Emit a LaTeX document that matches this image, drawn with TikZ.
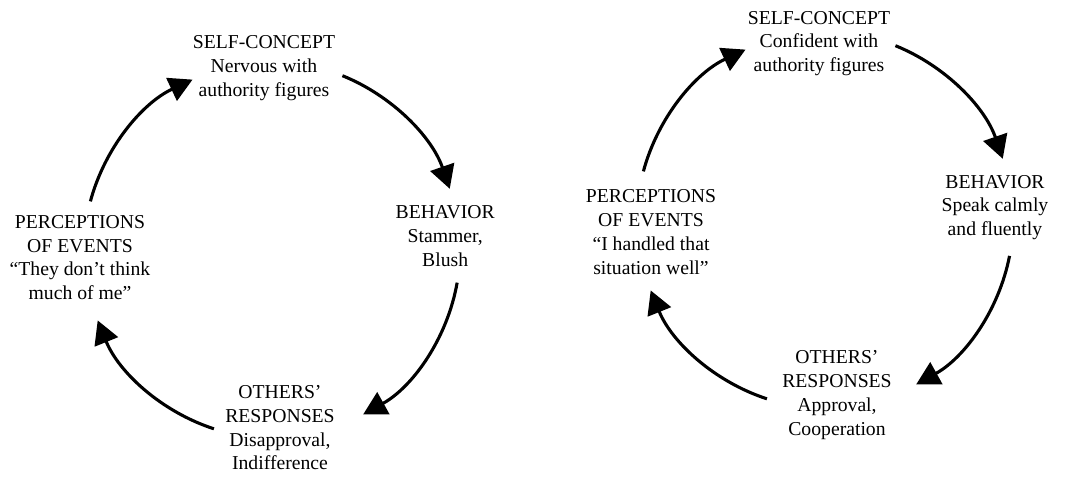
\documentclass[tikz,border=0pt]{standalone}
\usepackage{fontspec}
\setmainfont{Liberation Serif}
\usetikzlibrary{arrows.meta}

\begin{document}
\begin{tikzpicture}[font=\fontsize{14}{17}\selectfont,
          lbl/.style={align=center, inner sep=1pt},
          cyc/.style={line width=2.2pt, -{Triangle[length=0.58cm, width=0.62cm]}}]
        \useasboundingbox (0,0) rectangle (26.75,12);
        % left cycle: arcs on a circle of radius 4.7 round (6.8,5.75)
        \begin{scope}[shift={(6.8,5.75)}]
          \node[lbl] (sc1) at (-0.2,4.55) {SELF-CONCEPT\\Nervous with\\authority figures};
          \node[lbl] (bh1) at (4.33,0.34) {BEHAVIOR\\Stammer,\\Blush};
          \node[lbl] (or1) at (0.2,-4.44) {OTHERS’\\RESPONSES\\Disapproval,\\Indifference};
          \node[lbl] (pe1) at (-4.8,-0.19) {PERCEPTIONS\\OF EVENTS\\“They don’t think\\much of me”};
          \coordinate (a1) at (165:4.7);
          \coordinate (b1) at (68:4.7);
          \coordinate (c1) at (-10:4.7);
          \coordinate (d1) at (-108:4.7);
          \draw[cyc] (a1) arc[start angle=165, end angle=115, radius=4.7];
          \draw[cyc] (b1) arc[start angle=68, end angle=19, radius=4.7];
          \draw[cyc] (c1) arc[start angle=-10, end angle=-61, radius=4.7];
          \draw[cyc] (d1) arc[start angle=-108, end angle=-158, radius=4.7];
        \end{scope}
        % right cycle
        \begin{scope}[shift={(20.625,6.5)}]
          \node[lbl] (sc2) at (-0.15,4.41) {SELF-CONCEPT\\Confident with\\authority figures};
          \node[lbl] (bh2) at (4.25,0.31) {BEHAVIOR\\Speak calmly\\and fluently};
          \node[lbl] (or2) at (0.3,-4.38) {OTHERS’\\RESPONSES\\Approval,\\Cooperation};
          \node[lbl] (pe2) at (-4.35,-0.31) {PERCEPTIONS\\OF EVENTS\\“I handled that\\situation well”};
          \coordinate (a2) at (165:4.7);
          \coordinate (b2) at (68:4.7);
          \coordinate (c2) at (-11:4.7);
          \coordinate (d2) at (-108:4.7);
          \draw[cyc] (a2) arc[start angle=165, end angle=115, radius=4.7];
          \draw[cyc] (b2) arc[start angle=68, end angle=19, radius=4.7];
          \draw[cyc] (c2) arc[start angle=-11, end angle=-61, radius=4.7];
          \draw[cyc] (d2) arc[start angle=-108, end angle=-158, radius=4.7];
        \end{scope}
      \end{tikzpicture}
\end{document}
